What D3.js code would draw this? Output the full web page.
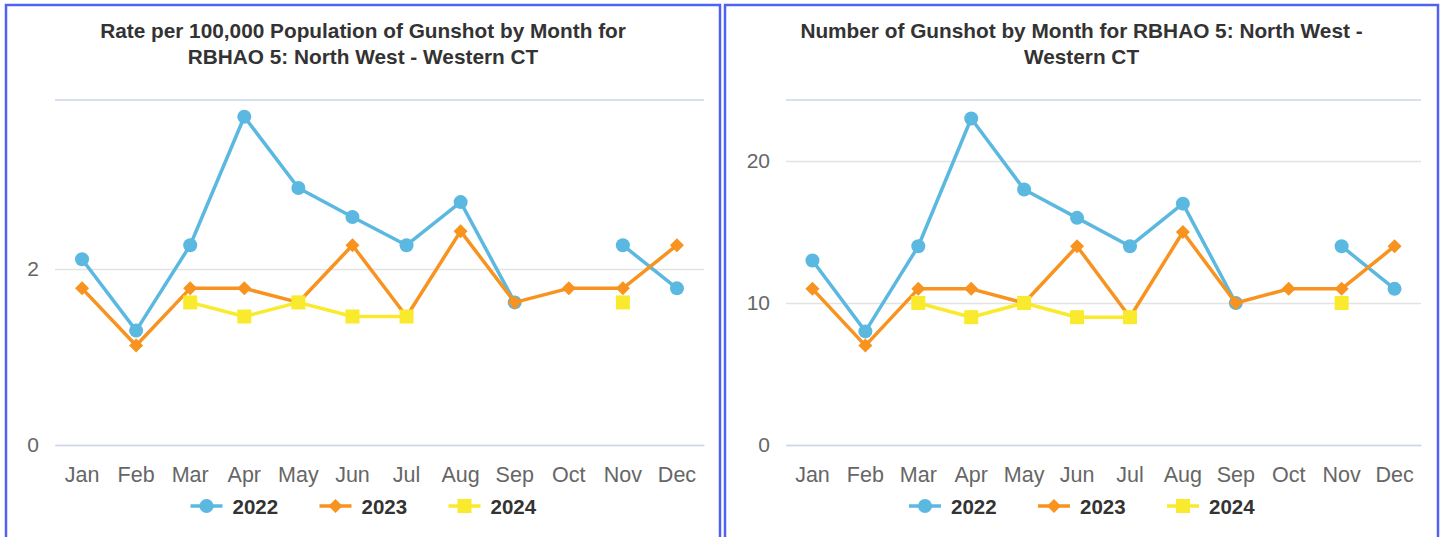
<!DOCTYPE html>
<html>
<head>
<meta charset="utf-8">
<script src="https://cdn.jsdelivr.net/npm/d3@7"></script>
<style>
  html, body { margin: 0; padding: 0; background: #fff; }
  svg { display: block; font-family: "Liberation Sans", Arial, sans-serif; }
</style>
</head>
<body>
<svg id="chart" width="1442" height="537"></svg>
<script>
// ---- data ----
const months = ["Jan","Feb","Mar","Apr","May","Jun","Jul","Aug","Sep","Oct","Nov","Dec"];
const years = ["2022","2023","2024"];
const rate2022 = [2.11,1.30,2.27,3.73,2.92,2.59,2.27,2.76,1.62,null,2.27,1.78];
const rate2023 = [1.78,1.13,1.78,1.78,1.62,2.27,1.46,2.43,1.62,1.78,1.78,2.27];
const rate2024 = [null,null,1.62,1.46,1.62,1.46,1.46,null,null,null,1.62,null];
const count2022 = [13,8,14,23,18,16,14,17,10,null,14,11];
const count2023 = [11,7,11,11,10,14,9,15,10,11,11,14];
const count2024 = [null,null,10,9,10,9,9,null,null,null,10,null];
const rateTicks = [0,2];
const countTicks = [0,10,20];
const rateMax = 3.92;
const countMax = 24.3;
const rateTitle = ["Rate per 100,000 Population of Gunshot by Month for","RBHAO 5: North West - Western CT"];
const countTitle = ["Number of Gunshot by Month for RBHAO 5: North West -","Western CT"];

// ---- styles ----
const colors = ["#5bb8e0","#f7931e","#f9ea2d"];
const symbols = ["circle","diamond","square"];

const svg = d3.select("#chart");

function symbolD(type, r) {
  if (type === "circle") return `M${-r},0a${r},${r} 0 1,0 ${2*r},0a${r},${r} 0 1,0 ${-2*r},0Z`;
  if (type === "diamond") return `M0,${-r}L${r},0L0,${r}L${-r},0Z`;
  return `M${-r},${-r}H${r}V${r}H${-r}Z`;
}

function panel(cfg) {
  const g = svg.append("g");
  // border
  g.append("rect")
    .attr("x", cfg.bx).attr("y", 5)
    .attr("width", cfg.bw).attr("height", 560)
    .attr("fill", "#fff").attr("stroke", "#4f63f2").attr("stroke-width", 2.5);

  // title
  const cx = cfg.bx + cfg.bw / 2;
  cfg.title.forEach((t, i) => {
    g.append("text").attr("x", cx).attr("y", 38 + i * 26)
      .attr("text-anchor", "middle").attr("fill", "#333")
      .attr("font-size", 20.8).attr("font-weight", "bold").text(t);
  });

  const x = d3.scaleBand().domain(months).range([cfg.left, cfg.right]);
  const y = d3.scaleLinear().domain([0, cfg.max]).range([445, 100]);

  // grid
  const gy = g.append("g").attr("transform", `translate(${cfg.left},0)`)
    .call(d3.axisLeft(y).tickValues(cfg.ticks).tickSize(-(cfg.right - cfg.left)).tickPadding(16).tickFormat(d3.format("d")));
  gy.select(".domain").remove();
  gy.selectAll(".tick line").attr("stroke", "#e3e3e3").attr("stroke-width", 1.5);
  gy.selectAll(".tick text").attr("fill", "#666").attr("font-size", 21).attr("font-family", "Liberation Sans, Arial, sans-serif");
  // top plot line
  g.append("line").attr("x1", cfg.left).attr("x2", cfg.right).attr("y1", y(cfg.max)).attr("y2", y(cfg.max))
    .attr("stroke", "#ccd6eb").attr("stroke-width", 1.5);

  const gx = g.append("g").attr("transform", "translate(0,445)")
    .call(d3.axisBottom(x).tickSize(0).tickPadding(22));
  gx.select(".domain").attr("stroke", "#ccd6eb").attr("stroke-width", 1.5);
  gx.selectAll(".tick text").attr("fill", "#666").attr("font-size", 21.5).attr("font-family", "Liberation Sans, Arial, sans-serif");

  // series
  cfg.series.forEach((vals, si) => {
    const pts = vals.map((v, i) => ({ m: months[i], v }));
    const line = d3.line().defined(d => d.v != null)
      .x(d => x(d.m) + x.bandwidth() / 2).y(d => y(d.v));
    g.append("path").attr("d", line(pts)).attr("fill", "none")
      .attr("stroke", colors[si]).attr("stroke-width", 3.5).attr("stroke-linejoin", "round");
    g.selectAll(null).data(pts.filter(d => d.v != null)).enter().append("path")
      .attr("transform", d => `translate(${x(d.m) + x.bandwidth() / 2},${y(d.v)})`)
      .attr("d", symbolD(symbols[si], 7)).attr("fill", colors[si]);
  });

  // legend
  const step = 129;
  const lx0 = cx - (3 * 87 + 2 * 42) / 2;
  years.forEach((yr, i) => {
    const lg = g.append("g").attr("transform", `translate(${lx0 + i * step},506)`);
    lg.append("line").attr("x1", 0).attr("x2", 32).attr("y1", 0).attr("y2", 0)
      .attr("stroke", colors[i]).attr("stroke-width", 3.5);
    lg.append("path").attr("transform", "translate(16,0)").attr("d", symbolD(symbols[i], 7)).attr("fill", colors[i]);
    lg.append("text").attr("x", 42).attr("y", 7.5).attr("fill", "#333")
      .attr("font-size", 20.5).attr("font-weight", "bold").text(yr);
  });
}

panel({ bx: 6, bw: 714, left: 55, right: 704, max: rateMax, ticks: rateTicks, title: rateTitle,
        series: [rate2022, rate2023, rate2024] });
panel({ bx: 725, bw: 713, left: 786, right: 1421, max: countMax, ticks: countTicks, title: countTitle,
        series: [count2022, count2023, count2024] });
</script>
</body>
</html>
